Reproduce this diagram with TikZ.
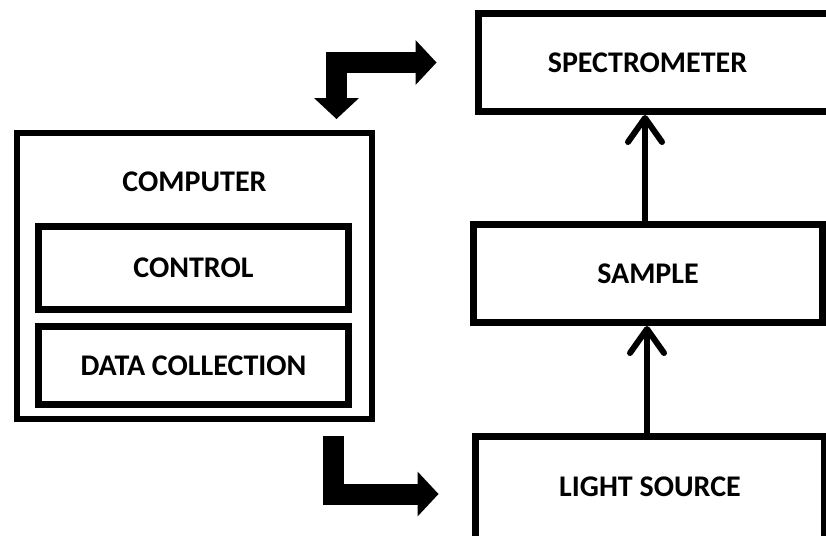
\documentclass[tikz,border=0pt]{standalone}
\usepackage{fontspec}
\setmainfont{Carlito}
\usetikzlibrary{arrows.meta}
\tikzset{
	boxfont/.style={font=\fontsize{30}{34}\selectfont\bfseries},
	box/.style={draw, line width=7pt, rectangle, inner sep=0pt, boxfont},
	flow/.style={line width=6pt, -{Straight Barb[length=24pt,width=34pt,round]}},
	bigarrow/.style={line width=21pt, line join=miter},
	bigtip/.tip={Triangle[length=21pt,width=45pt,line width=0pt]}
}

\begin{document}
\begin{tikzpicture}[x=1pt, y=-1pt]
			%%%%% FRAME %%%%%
			\useasboundingbox (0, 0) rectangle (826, 535);
			
			%%%%% COMPUTER %%%%%
			\node[box, line width=6pt, minimum width=355pt, minimum height=286pt] (comp) at (194.5, 276) {};
			\node[boxfont] (comptitle) at (194.5, 182) {COMPUTER};
			\node[box, minimum width=310pt, minimum height=83pt] (ctrl) at (193.5, 268) {CONTROL};
			\node[box, minimum width=310pt, minimum height=78pt] (data) at (193.5, 365.5) {DATA COLLECTION};
			
			%%%%% RIGHT COLUMN %%%%%
			\node[box, minimum width=370pt, minimum height=98pt] (spec) at (663.5, 62.5) {\hspace*{-32pt}SPECTROMETER};
			\node[box, minimum width=349pt, minimum height=98pt] (samp) at (648, 273.5) {SAMPLE};
			\node[box, minimum width=349pt, minimum height=110pt] (light) at (650, 491.5) {\raisebox{9pt}{LIGHT SOURCE}};
			
			\draw[flow] ([xshift=-3pt]light.north) -- ([xshift=-3pt]light.north |- samp.south);
			\draw[flow] ([xshift=-3pt]samp.north) -- ([xshift=-3pt]samp.north |- spec.south);
			
			%%%%% BLOCK ARROWS %%%%%
			\coordinate (bendtop) at (336.5, 62.5);
			\coordinate (bendlow) at (333, 494);
			\draw[bigarrow, bigtip-bigtip, shorten <=11pt, shorten >=38.5pt] (comp.north -| bendtop) -- (bendtop) -- (spec.west |- bendtop);
			\draw[bigarrow, -bigtip, shorten <=14pt, shorten >=33.5pt] (comp.south -| bendlow) -- (bendlow) -- (light.west |- bendlow);
			
\end{tikzpicture}
\end{document}
